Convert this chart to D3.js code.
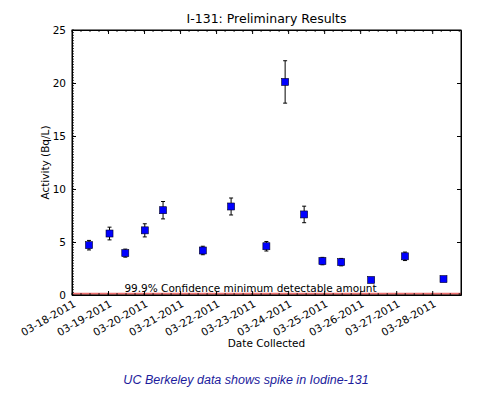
<!DOCTYPE html>
<html>
<head>
<meta charset="utf-8">
<script src="https://cdn.jsdelivr.net/npm/d3@7"></script>
<style>
  body { margin: 0; background: #fff; }
  svg { display: block; }
  .tick text { font-family: "DejaVu Sans", sans-serif; font-size: 10.5px; fill: #000; }
</style>
</head>
<body>
<div id="chart"></div>
<script>
// sample collection times and I-131 activity (Bq/L)
var dates = ["2011-03-18T11:20", "2011-03-19T01:00", "2011-03-19T11:30", "2011-03-20T00:30",
             "2011-03-20T12:40", "2011-03-21T15:10", "2011-03-22T10:00", "2011-03-23T09:30",
             "2011-03-23T22:00", "2011-03-24T10:40", "2011-03-24T22:50", "2011-03-25T11:20",
             "2011-03-26T07:20", "2011-03-27T05:50", "2011-03-28T07:30"];
var activity = [4.7, 5.8, 3.95, 6.1, 8.0, 4.2, 8.35, 4.6, 20.1, 7.6, 3.2, 3.1, 1.42, 3.65, 1.5];
var errors = [0.45, 0.6, 0.38, 0.62, 0.82, 0.4, 0.8, 0.45, 2.0, 0.78, 0.35, 0.35, 0.08, 0.4, 0.08];
var tickDates = ["03-18-2011", "03-19-2011", "03-20-2011", "03-21-2011", "03-22-2011", "03-23-2011",
                 "03-24-2011", "03-25-2011", "03-26-2011", "03-27-2011", "03-28-2011"];
var yTicks = [0, 5, 10, 15, 20, 25];
var mda = 0.12;

var width = 477, height = 399;
var margin = {left: 72, right: 16, top: 30, bottom: 104};

var parseIso = d3.timeParse("%Y-%m-%dT%H:%M");
var parseTick = d3.timeParse("%m-%d-%Y");
var fmtTick = d3.timeFormat("%m-%d-%Y");

var points = dates.map(function(d, i) {
    return {date: parseIso(d), value: activity[i], err: errors[i]};
});
var ticks = tickDates.map(function(t) { return parseTick(t); });

var x = d3.scaleTime()
    .domain([ticks[0], new Date(2011, 2, 28, 19, 10)])
    .range([margin.left, width - margin.right]);
var y = d3.scaleLinear()
    .domain([0, 25])
    .range([height - margin.bottom, margin.top]);

var svg = d3.select("#chart").append("svg")
    .attr("width", width)
    .attr("height", height);

var x0 = x.range()[0], x1 = x.range()[1];
var y0 = y.range()[0], y1 = y.range()[1];

// MDA line
svg.append("line")
    .attr("x1", x0).attr("x2", x1)
    .attr("y1", y(mda)).attr("y2", y(mda))
    .attr("stroke", "#f07070").attr("stroke-width", 2.2);

// minor ticks
var minorX = d3.timeHour.every(6).range(x.domain()[0], x.domain()[1]);
var minorY = d3.range(0, 25.01, 0.25);
var minor = svg.append("g").attr("stroke", "#000").attr("stroke-width", 0.8);
minor.selectAll(".mxb").data(minorX).enter().append("line")
    .attr("x1", function(d) { return x(d); }).attr("x2", function(d) { return x(d); })
    .attr("y1", y0).attr("y2", y0 - 2);
minor.selectAll(".mxt").data(minorX).enter().append("line")
    .attr("x1", function(d) { return x(d); }).attr("x2", function(d) { return x(d); })
    .attr("y1", y1).attr("y2", y1 + 2);
minor.selectAll(".myl").data(minorY).enter().append("line")
    .attr("x1", x0).attr("x2", x0 + 2)
    .attr("y1", function(d) { return y(d); }).attr("y2", function(d) { return y(d); });

// axes
var xAxis = svg.append("g")
    .attr("transform", "translate(0," + y0 + ")")
    .call(d3.axisBottom(x).tickValues(ticks).tickFormat(fmtTick).tickSizeInner(-4).tickSizeOuter(0).tickPadding(6));
xAxis.selectAll(".tick text")
    .attr("text-anchor", "end")
    .attr("dy", null)
    .attr("transform", "translate(0,4) rotate(-30)")
    .attr("y", 0).attr("x", 0)
    .attr("dominant-baseline", "hanging");

svg.append("g")
    .attr("transform", "translate(0," + y1 + ")")
    .call(d3.axisTop(x).tickValues(ticks).tickFormat("").tickSizeInner(-4).tickSizeOuter(0));

svg.append("g")
    .attr("transform", "translate(" + x0 + ",0)")
    .call(d3.axisLeft(y).tickValues(yTicks).tickFormat(d3.format("d")).tickSizeInner(-4).tickSizeOuter(0).tickPadding(6));

svg.append("g")
    .attr("transform", "translate(" + x1 + ",0)")
    .call(d3.axisRight(y).tickValues(yTicks).tickFormat("").tickSizeInner(-4).tickSizeOuter(0));

svg.selectAll(".domain").attr("stroke", "#000");
svg.selectAll(".tick line").attr("stroke", "#000");

// frame
svg.append("rect")
    .attr("x", x0).attr("y", y1)
    .attr("width", x1 - x0).attr("height", y0 - y1)
    .attr("fill", "none").attr("stroke", "#000").attr("stroke-width", 1);

// MDA label
svg.append("text")
    .attr("x", (x0 + x1) / 2 - 16).attr("y", y(mda) - 2)
    .attr("text-anchor", "middle")
    .style("font-family", "DejaVu Sans, sans-serif").style("font-size", "10.5px")
    .text("99.9% Confidence minimum detectable amount");

// error bars
var eb = svg.append("g").attr("stroke", "#000").attr("stroke-width", 1);
points.forEach(function(p) {
    var cx = x(p.date);
    eb.append("line").attr("x1", cx).attr("x2", cx).attr("y1", y(p.value - p.err)).attr("y2", y(p.value + p.err));
    eb.append("line").attr("x1", cx - 2).attr("x2", cx + 2).attr("y1", y(p.value - p.err)).attr("y2", y(p.value - p.err));
    eb.append("line").attr("x1", cx - 2).attr("x2", cx + 2).attr("y1", y(p.value + p.err)).attr("y2", y(p.value + p.err));
});

// markers
svg.selectAll(".pt").data(points).enter().append("rect")
    .attr("x", function(d) { return x(d.date) - 3.5; })
    .attr("y", function(d) { return y(d.value) - 3.5; })
    .attr("width", 7).attr("height", 7)
    .attr("fill", "#0000ff").attr("stroke", "#000022").attr("stroke-width", 0.6);

// titles
svg.append("text")
    .attr("x", (x0 + x1) / 2).attr("y", 23)
    .attr("text-anchor", "middle")
    .style("font-family", "DejaVu Sans, sans-serif").style("font-size", "12.5px")
    .text("I-131: Preliminary Results");

svg.append("text")
    .attr("transform", "translate(49," + ((y0 + y1) / 2) + ") rotate(-90)")
    .attr("text-anchor", "middle")
    .style("font-family", "DejaVu Sans, sans-serif").style("font-size", "10.5px")
    .text("Activity (Bq/L)");

svg.append("text")
    .attr("x", (x0 + x1) / 2).attr("y", 347)
    .attr("text-anchor", "middle")
    .style("font-family", "DejaVu Sans, sans-serif").style("font-size", "10.5px")
    .text("Date Collected");

svg.append("text")
    .attr("x", 246).attr("y", 384)
    .attr("text-anchor", "middle")
    .style("font-family", "Liberation Sans, Arial, sans-serif").style("font-size", "12.5px")
    .style("font-style", "italic").attr("fill", "#1c1c9c")
    .text("UC Berkeley data shows spike in Iodine-131");
</script>
</body>
</html>
